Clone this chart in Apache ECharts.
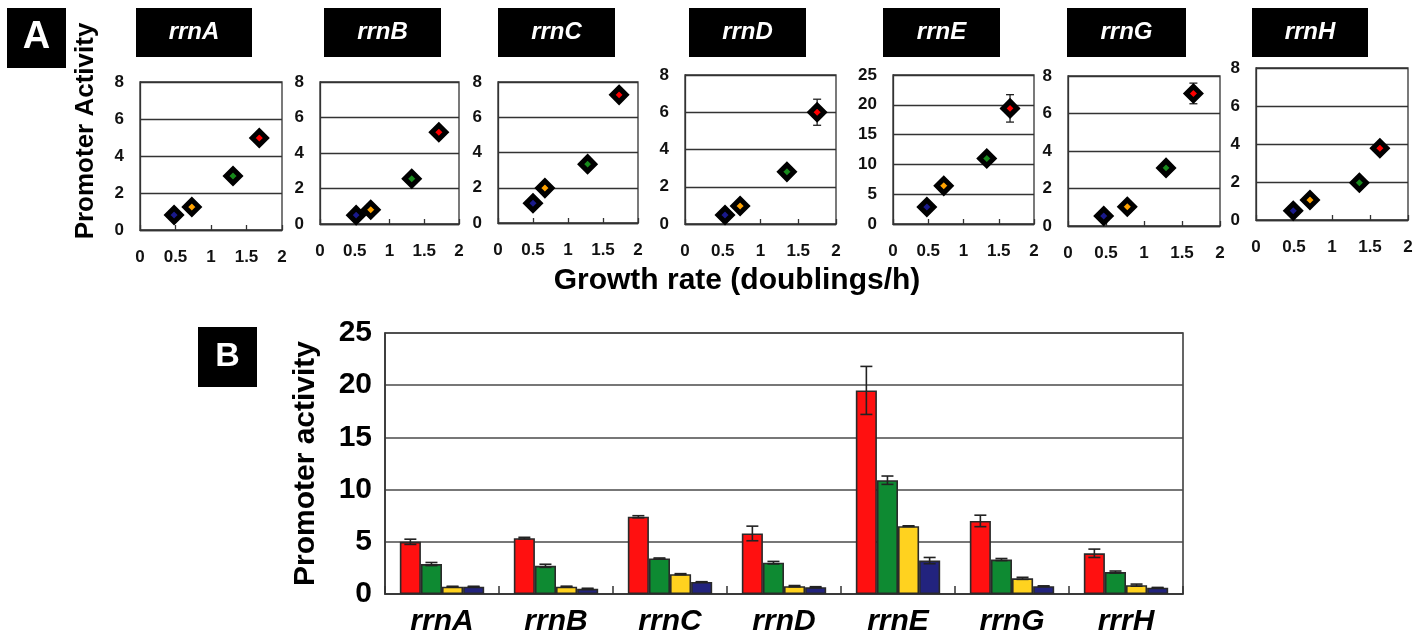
<!DOCTYPE html>
<html><head><meta charset="utf-8">
<script src="https://cdn.jsdelivr.net/npm/echarts@6/dist/echarts.min.js"></script>
<style>html,body{margin:0;padding:0;background:#fff}#c{width:1424px;height:638px}</style>
</head><body><div id="c"></div>
<script>
// ---- Panel A data (growth rate vs promoter activity) ----
const genesA = ['rrnA','rrnB','rrnC','rrnD','rrnE','rrnG','rrnH'];
const yMaxA = [8,8,8,8,25,8,8];
const yStepA = [2,2,2,2,5,2,2];
const xTicksA = ['0','0.5','1','1.5','2'];
const rateBlue   = [0.48,0.52,0.50,0.53,0.48,0.47,0.49];
const rateOrange = [0.73,0.73,0.67,0.73,0.72,0.78,0.71];
const rateGreen  = [1.31,1.32,1.28,1.35,1.33,1.29,1.36];
const rateRed    = [1.68,1.71,1.73,1.75,1.66,1.65,1.63];
const actBlue    = [0.81,0.50,1.12,0.48,2.85,0.53,0.49];
const actOrange  = [1.24,0.80,1.98,0.97,6.4,1.03,1.05];
const actGreen   = [2.92,2.55,3.34,2.80,11.0,3.10,1.96];
const actRed     = [4.97,5.17,7.27,6.00,19.4,7.07,3.78];
const errRedA    = [0,0,0,0.7,2.3,0.55,0];

// ---- Panel B data (bar chart) ----
const genesB = ['rrnA','rrnB','rrnC','rrnD','rrnE','rrnG','rrrH'];
const barRed    = [5.0,5.35,7.4,5.8,19.5,7.0,3.9];
const barGreen  = [2.87,2.7,3.4,3.0,10.9,3.3,2.1];
const barYellow = [0.7,0.7,1.9,0.75,6.5,1.5,0.85];
const barBlue   = [0.7,0.5,1.15,0.65,3.2,0.75,0.6];
const errRed    = [0.25,0.08,0.1,0.7,2.3,0.55,0.4];
const errGreen  = [0.15,0.15,0.05,0.12,0.4,0.1,0.1];
const errYellow = [0.04,0.05,0.05,0.06,0.03,0.1,0.1];
const errBlue   = [0.04,0.05,0.03,0.05,0.3,0.03,0.03];

const FONT = '"Liberation Sans", Arial, sans-serif';
const dotColors = ['#1a1a8c','#ffa200','#188a1c','#ff0000'];
const barColors = ['#ff1010','#0e8a32','#ffd21f','#22237e'];
const lineCol = '#333';

// layout of the small plots [left, top, width, height]
const boxA = [[140,82,142,148],[320,82,139,142],[498,82,140,141],[685,75,151,149],[893,75,141,149],[1068,76,152,150],[1256,68,152,152]];
const titleBoxA = [[136,252],[324,441],[498,615],[689,806],[883,1000],[1067,1186],[1252,1368]];

const grids = [], xAxes = [], yAxes = [], series = [];
genesA.forEach((g,i)=>{
  const b = boxA[i];
  grids.push({left:b[0],top:b[1],width:b[2],height:b[3],show:true,borderColor:lineCol,borderWidth:1.3,containLabel:false});
  xAxes.push({type:'value',gridIndex:i,min:0,max:2,interval:0.5,
    axisLine:{show:true,lineStyle:{color:lineCol,width:1.3}},
    axisTick:{show:true,inside:true,length:5,lineStyle:{color:lineCol,width:1.3}},
    splitLine:{show:false},
    axisLabel:{margin:19,fontFamily:FONT,fontWeight:'bold',fontSize:17,color:'#111',
      formatter:(v)=>xTicksA[Math.round(v/0.5)]}});
  yAxes.push({type:'value',gridIndex:i,min:0,max:yMaxA[i],interval:yStepA[i],
    axisLine:{show:true,lineStyle:{color:lineCol,width:1.3}},
    axisTick:{show:false},
    splitLine:{show:true,lineStyle:{color:lineCol,width:1.3}},
    axisLabel:{margin:16,fontFamily:FONT,fontWeight:'bold',fontSize:17,color:'#111'}});
  // error bars (behind)
  series.push({type:'custom',xAxisIndex:i,yAxisIndex:i,z:2,silent:true,
    data: errRedA[i] > 0 ? [[rateRed[i], actRed[i], errRedA[i]]] : [],
    renderItem:(params,api)=>{
      const x=api.value(0), y=api.value(1), e=api.value(2);
      const p1=api.coord([x,y+e]), p2=api.coord([x,y-e]);
      const st={stroke:'#222',lineWidth:1.3};
      return {type:'group',children:[
        {type:'line',shape:{x1:p1[0],y1:p1[1],x2:p2[0],y2:p2[1]},style:st},
        {type:'line',shape:{x1:p1[0]-4,y1:p1[1],x2:p1[0]+4,y2:p1[1]},style:st},
        {type:'line',shape:{x1:p2[0]-4,y1:p2[1],x2:p2[0]+4,y2:p2[1]},style:st}]};
    }});
  const pts = [[rateBlue[i],actBlue[i]],[rateOrange[i],actOrange[i]],[rateGreen[i],actGreen[i]],[rateRed[i],actRed[i]]];
  series.push({type:'scatter',xAxisIndex:i,yAxisIndex:i,z:3,symbol:'diamond',symbolSize:14,
    itemStyle:{borderColor:'#000',borderWidth:5,opacity:1},
    data: pts.map((p,k)=>({value:p,itemStyle:{color:dotColors[k],borderColor:'#000',borderWidth:5}}))});
});

// panel B
const bi = genesA.length;
grids.push({left:385,top:333,width:798,height:261,show:true,borderColor:lineCol,borderWidth:1.5,containLabel:false});
xAxes.push({type:'category',gridIndex:bi,data:genesB,
  axisLine:{show:true,lineStyle:{color:lineCol,width:1.5}},
  axisTick:{show:true,inside:true,length:8,alignWithLabel:false,lineStyle:{color:lineCol,width:1.5}},
  axisLabel:{margin:13,fontFamily:FONT,fontWeight:'bold',fontStyle:'italic',fontSize:30,color:'#000'}});
yAxes.push({type:'value',gridIndex:bi,min:0,max:25,interval:5,
  name:'Promoter activity',nameLocation:'middle',nameRotate:90,nameGap:64,
  nameTextStyle:{fontFamily:FONT,fontWeight:'bold',fontSize:30,color:'#000'},
  axisLine:{show:true,lineStyle:{color:lineCol,width:1.5}},
  axisTick:{show:false},
  splitLine:{show:true,lineStyle:{color:'#4a4a4a',width:1.6}},
  axisLabel:{margin:13,fontFamily:FONT,fontWeight:'bold',fontSize:30,color:'#000'}});
const barSets=[barRed,barGreen,barYellow,barBlue];
const errSets=[errRed,errGreen,errYellow,errBlue];
const GAP=0.26;
barSets.forEach((arr,k)=>{
  series.push({type:'bar',xAxisIndex:bi,yAxisIndex:bi,data:arr,barGap:'0%',barCategoryGap:(GAP*100)+'%',z:2,
    itemStyle:{color:barColors[k],borderColor:'#2a2a2a',borderWidth:1.6}});
});
barSets.forEach((arr,k)=>{
  series.push({type:'custom',xAxisIndex:bi,yAxisIndex:bi,z:4,silent:true,
    data: arr.map((v,j)=>[j,v,errSets[k][j]]),
    renderItem:(params,api)=>{
      const j=api.value(0), y=api.value(1), e=api.value(2);
      const band=api.size([1,0])[0];
      const bw=band*(1-GAP)/4;
      const c=api.coord([j,y]);
      const cx=c[0]+(k-1.5)*bw;
      const top=api.coord([j,y+e])[1], bot=api.coord([j,y-e])[1];
      const st={stroke:'#222',lineWidth:1.6};
      return {type:'group',children:[
        {type:'line',shape:{x1:cx,y1:top,x2:cx,y2:bot},style:st},
        {type:'line',shape:{x1:cx-6,y1:top,x2:cx+6,y2:top},style:st},
        {type:'line',shape:{x1:cx-6,y1:bot,x2:cx+6,y2:bot},style:st}]};
    }});
});

// decorations: panel labels, gene title boxes, shared axis titles
const graphics = [];
function labelBox(x1,y1,x2,y2,txt,size,italic){
  graphics.push({type:'rect',shape:{x:x1,y:y1,width:x2-x1,height:y2-y1},style:{fill:'#000'}});
  graphics.push({type:'text',x:(x1+x2)/2,y:(y1+y2)/2,style:{text:txt,fill:'#fff',font:(italic?'italic ':'')+'bold '+size+'px '+FONT,textAlign:'center',textVerticalAlign:'middle'}});
}
labelBox(7,8,66,68,'A',38,false);
labelBox(198,327,257,387,'B',34,false);
genesA.forEach((g,i)=>labelBox(titleBoxA[i][0],8,titleBoxA[i][1],57,g,24,true));
graphics.push({type:'text',x:737,y:281,style:{text:'Growth rate (doublings/h)',fill:'#000',font:'bold 30px '+FONT,textAlign:'center',textVerticalAlign:'middle'}});
graphics.push({type:'text',x:86,y:131,rotation:Math.PI/2,style:{text:'Promoter Activity',fill:'#000',font:'bold 26px '+FONT,textAlign:'center',textVerticalAlign:'middle'}});

const chart = echarts.init(document.getElementById('c'),null,{renderer:'canvas'});
chart.setOption({
  animation:false,backgroundColor:'#fff',
  grid:grids,xAxis:xAxes,yAxis:yAxes,series:series,graphic:graphics
});
</script></body></html>
